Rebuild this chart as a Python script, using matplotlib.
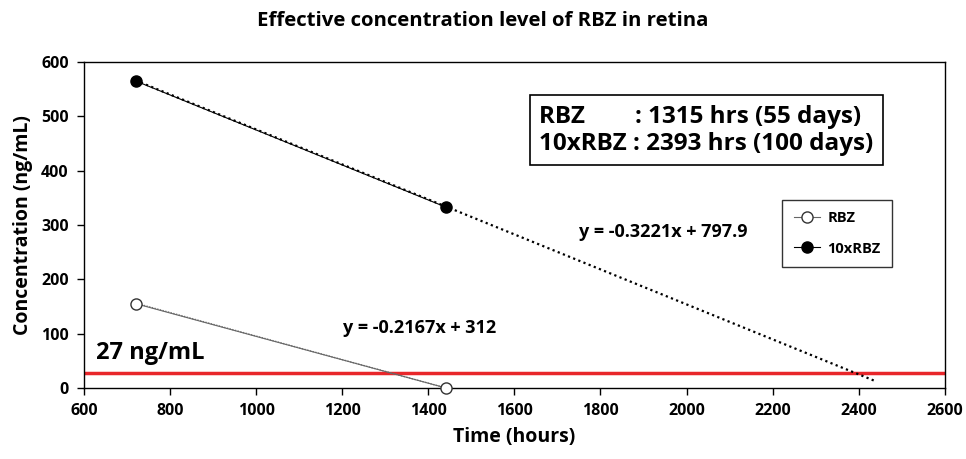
import matplotlib
matplotlib.use("Agg")
import matplotlib.pyplot as plt
import numpy as np

plt.rcParams['font.family'] = ['Open Sans', 'DejaVu Sans']

time_hours = [720, 1440]
rbz = [155, 0]
rbz10 = [565, 333]
labels = ["RBZ", "10xRBZ"]
threshold = 27
fit_rbz = (-0.2167, 312)
fit_rbz10 = (-0.3221, 797.9)
fit_rbz10_end = 2440
xticks = [600, 800, 1000, 1200, 1400, 1600, 1800, 2000, 2200, 2400, 2600]
yticks = [0, 100, 200, 300, 400, 500, 600]

fig = plt.figure(figsize=(9.66, 4.59), dpi=100)
ax = fig.add_axes([0.087, 0.155, 0.891, 0.71])

# threshold line
ax.axhline(threshold, color='#e8262a', lw=2.5, zorder=1)

# trendlines
xf = np.array([time_hours[0], fit_rbz10_end])
ax.plot(xf, fit_rbz10[0] * xf + fit_rbz10[1], color='black', lw=1.6, ls=(0, (1, 1.5)), zorder=2)
xr = np.array([time_hours[0], time_hours[1]])
ax.plot(xr, fit_rbz[0] * xr + fit_rbz[1], color='#777777', lw=1.0, ls=(0, (1, 1)), zorder=2)

# series
l1, = ax.plot(time_hours, rbz, color='#666666', lw=0.8, marker='o', ms=8,
              mfc='white', mec='#333333', mew=1.0, label=labels[0], zorder=3)
l2, = ax.plot(time_hours, rbz10, color='black', lw=0.8, marker='o', ms=8,
              mfc='black', mec='black', label=labels[1], zorder=3)
for ln in (l1, l2):
    ln.set_clip_on(False)

ax.set_xlim(600, 2600)
ax.set_ylim(0, 600)
ax.set_xticks(xticks)
ax.set_yticks(yticks)
ax.tick_params(direction='out', length=5, width=1, labelsize=11.5, pad=6)
for lab in ax.get_xticklabels() + ax.get_yticklabels():
    lab.set_fontweight('bold')
for sp in ax.spines.values():
    sp.set_linewidth(1.0)

ax.set_xlabel('Time (hours)', fontsize=14, fontweight='bold', labelpad=6)
ax.set_ylabel('Concentration (ng/mL)', fontsize=14, fontweight='bold', labelpad=6)
fig.suptitle('Effective concentration level of RBZ in retina', fontsize=14.7,
             fontweight='bold', y=0.975)

ax.text(628, 64, '27 ng/mL', fontsize=17, fontweight='bold', ha='left', va='center')
ax.text(1380, 110, 'y = -0.2167x + 312', fontsize=13, fontweight='bold', ha='center', va='center')
ax.text(1945, 287, 'y = -0.3221x + 797.9', fontsize=13, fontweight='bold', ha='center', va='center')

ax.text(0.529, 0.79, 'RBZ        : 1315 hrs (55 days)\n10xRBZ : 2393 hrs (100 days)',
        transform=ax.transAxes, fontsize=17.5, fontweight='bold', ha='left', va='center',
        linespacing=1.15,
        bbox=dict(boxstyle='square,pad=0.4', fc='white', ec='black', lw=1.2))

leg = ax.legend(handles=[l1, l2], loc='upper left', bbox_to_anchor=(0.811, 0.577),
                borderaxespad=0, frameon=True, fancybox=False, edgecolor='black',
                prop={'weight': 'bold', 'size': 10.5}, handlelength=1.8,
                handletextpad=0.5, borderpad=0.8, labelspacing=1.1)
leg.get_frame().set_linewidth(1.0)

fig.savefig('out.png', dpi=100)
